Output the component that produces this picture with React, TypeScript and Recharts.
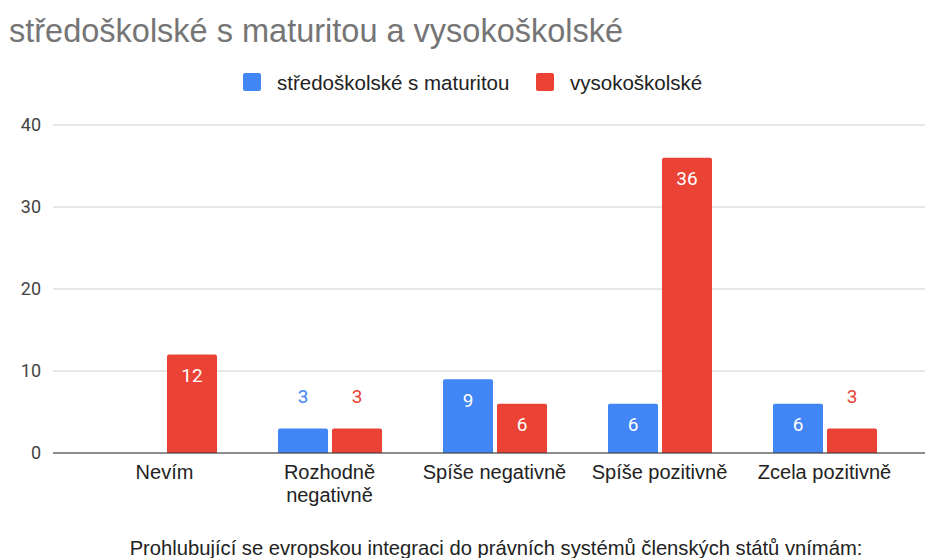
import React from "react";
import { BarChart, Bar, XAxis, YAxis, CartesianGrid, LabelList } from "recharts";

const categories = ["Nevím", "Rozhodně negativně", "Spíše negativně", "Spíše pozitivně", "Zcela pozitivně"];
const stredoskolske = [0, 3, 9, 6, 6];
const vysokoskolske = [12, 3, 6, 36, 3];
const yTicks = [0, 10, 20, 30, 40];

const series = [
  { key: "ss", name: "středoškolské s maturitou", color: "#4285F4", values: stredoskolske },
  { key: "vs", name: "vysokoškolské", color: "#EA4335", values: vysokoskolske },
];

const title = "středoškolské s maturitou a vysokoškolské";
const xTitle = "Prohlubující se evropskou integraci do právních systémů členských států vnímám:";

const data = categories.map((c, i) => ({
  name: c,
  ss: stredoskolske[i] || null,
  vs: vysokoskolske[i],
}));

const FONT = "'Liberation Sans', Arial, sans-serif";
const LABEL_FONT = "Roboto, sans-serif";
const MAX_CHARS = 16;

// greedy word wrap by character count
function wrap(label: string): string[] {
  const lines: string[] = [];
  let cur = "";
  for (const w of label.split(" ")) {
    const next = cur ? cur + " " + w : w;
    if (next.length > MAX_CHARS && cur) {
      lines.push(cur);
      cur = w;
    } else cur = next;
  }
  if (cur) lines.push(cur);
  return lines;
}

const YTick = ({ x, y, payload }: any) => (
  <text x={x - 4} y={y} dy="0.35em" textAnchor="end" fontSize={18} fontFamily={LABEL_FONT} fill="#444">
    {payload.value}
  </text>
);

const XTick = ({ x, y, payload }: any) => (
  <text x={x} y={y + 18} textAnchor="middle" fontSize={20} fontFamily={FONT} fill="#222">
    {wrap(payload.value).map((line, i) => (
      <tspan key={i} x={x} dy={i === 0 ? 0 : 23}>
        {line}
      </tspan>
    ))}
  </text>
);

const makeLabel = (color: string) => (props: any) => {
  const { x, y, width, value } = props;
  if (!value) return null;
  const inside = value >= 5;
  return (
    <text
      x={x + width / 2}
      y={inside ? y + 21 : y - 32}
      dy="0.35em"
      textAnchor="middle"
      fontSize={19}
      fontFamily={LABEL_FONT}
      fill={inside ? "#fff" : color}
    >
      {value}
    </text>
  );
};

export default function App() {
  return (
    <div style={{ position: "absolute", left: 0, top: 0, width: 926, height: 558, background: "#fff" }}>
      <svg width={926} height={110} style={{ position: "absolute", left: 0, top: 0 }}>
        <text x={9} y={42} fontSize={32.5} fontFamily={FONT} fill="#757575">{title}</text>
        <rect x={243} y={73} width={18} height={18} rx={2} fill={series[0].color} />
        <text x={277} y={90} fontSize={20.5} fontFamily={FONT} fill="#222">{series[0].name}</text>
        <rect x={536} y={73} width={18} height={18} rx={2} fill={series[1].color} />
        <text x={570} y={90} fontSize={20.5} fontFamily={FONT} fill="#222">{series[1].name}</text>
      </svg>
      <BarChart
        width={926}
        height={558}
        data={data}
        margin={{ top: 125, right: 1, left: 0, bottom: 0 }}
        barGap={4}
        barSize={50}
      >
        <CartesianGrid vertical={false} stroke="#d0d0d0" />
        <YAxis
          width={53}
          domain={[0, 40]}
          ticks={yTicks}
          axisLine={false}
          tickLine={false}
          tick={<YTick />}
          interval={0}
        />
        <XAxis
          dataKey="name"
          height={105}
          padding={{ left: 29, right: 18 }}
          axisLine={{ stroke: "#333", strokeWidth: 1 }}
          tickLine={false}
          tick={<XTick />}
          interval={0}
          label={{
            value: xTitle,
            position: "insideBottom",
            offset: 3,
            dx: 7,
            fontSize: 20.2,
            fontFamily: FONT,
            fill: "#222",
          }}
        />
        {series.map((s) => (
          <Bar
            key={s.key}
            dataKey={s.key}
            name={s.name}
            fill={s.color}
            radius={[2, 2, 0, 0]}
            isAnimationActive={false}
          >
            <LabelList dataKey={s.key} content={makeLabel(s.color)} />
          </Bar>
        ))}
      </BarChart>
    </div>
  );
}
